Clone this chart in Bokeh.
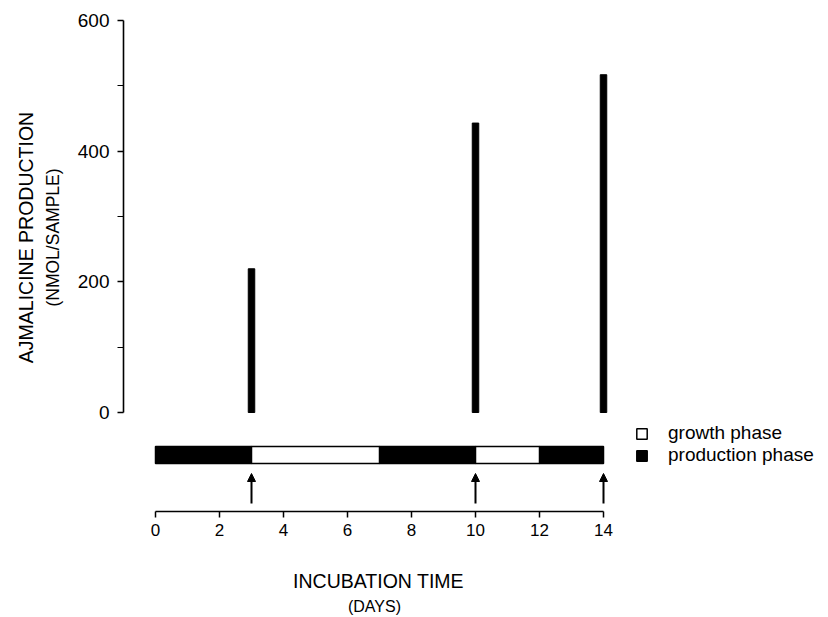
import math
from bokeh.plotting import figure
from bokeh.models import (Range1d, FixedTicker, ColumnDataSource, Label, Arrow,
                          NormalHead, Legend, LegendItem)
from bokeh.embed import file_html
from bokeh.resources import INLINE

# ---- data ----
sample_days = [3, 10, 14]
ajmalicine_nmol = [220, 443, 517]
phase_start = [0, 3, 7, 10, 12]
phase_end = [3, 7, 10, 12, 14]
phase_kind = ["production", "growth", "production", "growth", "production"]
x_ticks = [0, 2, 4, 6, 8, 10, 12, 14]
y_ticks = [0, 200, 400, 600]
y_minor_ticks = [100, 300, 500]

# ---- layout ----
FONT = "Liberation Sans"
W, H = 828, 617
AXIS_X_PX, AXIS_Y_PX = 123, 511
X0_PX, PX_PER_DAY = 155, 32.0
Y0_PX, PX_PER_UNIT = 412, 392 / 600.0


def dx(px):
    return (px - X0_PX) / PX_PER_DAY


def dy(py):
    return (Y0_PX - py) / PX_PER_UNIT


p = figure(width=W, height=H,
           x_range=Range1d(dx(0), dx(W)),
           y_range=Range1d(dy(H), dy(0)),
           output_backend="svg", toolbar_location=None,
           min_border=0, min_border_left=0, min_border_right=0,
           min_border_top=0, min_border_bottom=0)
p.grid.visible = False
p.outline_line_color = None
p.background_fill_color = "white"
p.border_fill_color = "white"

# y axis (drawn inside the frame at a fixed location)
ya = p.yaxis[0]
ya.fixed_location = dx(AXIS_X_PX)
ya.bounds = (0, 600)
ya.ticker = FixedTicker(ticks=y_ticks, minor_ticks=y_minor_ticks)
ya.axis_line_width = 1.6
ya.major_tick_in = 0
ya.major_tick_out = 6
ya.minor_tick_in = 0
ya.minor_tick_out = 6
ya.major_tick_line_width = 1.5
ya.minor_tick_line_width = 1.2
ya.major_label_standoff = 8
ya.major_label_text_font = FONT
ya.major_label_text_font_size = "19px"
ya.major_label_text_color = "black"

# x axis
xa = p.xaxis[0]
xa.fixed_location = dy(AXIS_Y_PX)
xa.bounds = (0, 14)
xa.ticker = FixedTicker(ticks=x_ticks, minor_ticks=[])
xa.axis_line_width = 1.6
xa.major_tick_in = 0
xa.major_tick_out = 6
xa.major_tick_line_width = 1.5
xa.major_label_standoff = 6
xa.major_label_text_font = FONT
xa.major_label_text_font_size = "17px"
xa.major_label_text_color = "black"

# bars
p.vbar(x=sample_days, top=ajmalicine_nmol, bottom=0, width=6.5 / PX_PER_DAY,
       fill_color="black", line_color="black")

# phase bar
bar_top, bar_bot = dy(446), dy(463)
prod = [(s, e) for s, e, k in zip(phase_start, phase_end, phase_kind) if k == "production"]
grow = [(s, e) for s, e, k in zip(phase_start, phase_end, phase_kind) if k == "growth"]
r_prod = p.quad(left=[s for s, e in prod], right=[e for s, e in prod],
                top=bar_top, bottom=bar_bot,
                fill_color="black", line_color="black", line_width=1.5)
r_grow = p.quad(left=[s for s, e in grow], right=[e for s, e in grow],
                top=bar_top, bottom=bar_bot,
                fill_color="white", line_color="black", line_width=1.5)

# sampling arrows
arrow_src = ColumnDataSource(dict(x=sample_days,
                                  y0=[dy(503)] * len(sample_days),
                                  y1=[dy(473)] * len(sample_days)))
p.add_layout(Arrow(end=NormalHead(size=8, fill_color="black", line_color="black"),
                   x_start="x", y_start="y0", x_end="x", y_end="y1",
                   line_width=2, line_color="black", source=arrow_src))

# legend
legend = Legend(items=[LegendItem(label="growth phase", renderers=[r_grow]),
                       LegendItem(label="production phase", renderers=[r_prod])],
                location=(635, H - 466),
                glyph_width=13, glyph_height=13, label_standoff=20,
                spacing=0, padding=0, margin=0, label_height=14,
                border_line_color=None, background_fill_alpha=0,
                label_text_font=FONT, label_text_font_size="19px",
                label_text_color="black")
p.add_layout(legend)

# axis titles
p.add_layout(Label(x=dx(25), y=dy(237), text="AJMALICINE PRODUCTION", angle=math.pi / 2,
                   text_align="center", text_baseline="middle",
                   text_font=FONT, text_font_size="19.5px", text_color="black"))
p.add_layout(Label(x=dx(52), y=dy(237), text="(NMOL/SAMPLE)", angle=math.pi / 2,
                   text_align="center", text_baseline="middle",
                   text_font=FONT, text_font_size="17.5px", text_color="black"))
p.add_layout(Label(x=dx(378), y=dy(580), text="INCUBATION TIME",
                   text_align="center", text_baseline="middle",
                   text_font=FONT, text_font_size="19.5px", text_color="black"))
p.add_layout(Label(x=dx(374), y=dy(606), text="(DAYS)",
                   text_align="center", text_baseline="middle",
                   text_font=FONT, text_font_size="16px", text_color="black"))

open("out.html", "w").write(file_html(p, INLINE))
